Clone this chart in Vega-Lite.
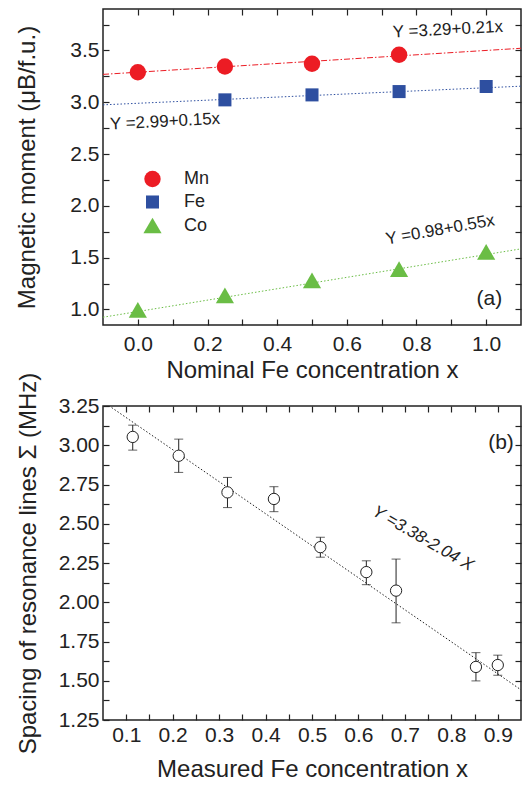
{
  "$schema": "https://vega.github.io/schema/vega-lite/v6.json",
  "background": "white",
  "padding": {"left": 15, "top": 7, "right": 9, "bottom": 3},
  "bounds": "flush",
  "spacing": 81,
  "config": {
    "font": "Liberation Sans",
    "view": {"stroke": "#222", "strokeWidth": 1.5},
    "axis": {
      "grid": false, "domain": false, "tickColor": "#222", "tickSize": -6, "tickWidth": 1.2,
      "labelFontSize": 21, "titleFontSize": 24, "titleFontWeight": "normal",
      "labelColor": "#222", "titleColor": "#222", "labelPadding": 10, "labelFlush": false
    }
  },
  "vconcat": [
    {
      "width": 418,
      "height": 316,
      "layer": [
        {
          "data": {"values": [
            {"series": "Mn", "x": -0.1, "y": 3.269}, {"series": "Mn", "x": 1.1, "y": 3.521}
          ]},
          "mark": {"type": "line", "color": "#EC1C24", "strokeWidth": 1, "strokeDash": [6, 2, 1.5, 2], "clip": true},
          "encoding": {
            "x": {"field": "x", "type": "quantitative", "scale": {"domain": [-0.1, 1.1], "nice": false, "zero": false},
              "axis": {"orient": "bottom", "values": [0, 0.1, 0.2, 0.3, 0.4, 0.5, 0.6, 0.7, 0.8, 0.9, 1.0],
                "labelExpr": "abs(round(datum.value*10)) % 2 == 0 ? format(datum.value, '.1f') : ''",
                "labelPadding": 14,
                "title": "Nominal Fe concentration x", "titlePadding": 4}},
            "y": {"field": "y", "type": "quantitative", "scale": {"domain": [0.85, 3.9], "nice": false, "zero": false},
              "axis": {"orient": "left", "values": [1.0, 1.25, 1.5, 1.75, 2.0, 2.25, 2.5, 2.75, 3.0, 3.25, 3.5, 3.75],
                "labelExpr": "round(datum.value*4) % 2 == 0 ? format(datum.value, '.1f') : ''",
                "title": "Magnetic moment (μB/f.u.)", "titlePadding": 30}}
          }
        },
        {
          "data": {"values": [
            {"series": "Fe", "x": -0.1, "y": 2.975}, {"series": "Fe", "x": 1.1, "y": 3.155}
          ]},
          "mark": {"type": "line", "color": "#2E4FA0", "strokeWidth": 1, "strokeDash": [1.5, 2], "clip": true},
          "encoding": {
            "x": {"field": "x", "type": "quantitative", "scale": {"domain": [-0.1, 1.1], "nice": false, "zero": false}, "axis": null},
            "y": {"field": "y", "type": "quantitative", "scale": {"domain": [0.85, 3.9], "nice": false, "zero": false}, "axis": null}
          }
        },
        {
          "data": {"values": [
            {"series": "Co", "x": -0.1, "y": 0.925}, {"series": "Co", "x": 1.1, "y": 1.585}
          ]},
          "mark": {"type": "line", "color": "#6ABD45", "strokeWidth": 1, "strokeDash": [1.5, 2], "clip": true},
          "encoding": {
            "x": {"field": "x", "type": "quantitative", "scale": {"domain": [-0.1, 1.1], "nice": false, "zero": false}, "axis": null},
            "y": {"field": "y", "type": "quantitative", "scale": {"domain": [0.85, 3.9], "nice": false, "zero": false}, "axis": null}
          }
        },
        {
          "data": {"values": [
            {"series": "Mn", "x": 0.0, "y": 3.29}, {"series": "Mn", "x": 0.25, "y": 3.345},
            {"series": "Mn", "x": 0.5, "y": 3.371}, {"series": "Mn", "x": 0.75, "y": 3.458},
            {"series": "Fe", "x": 0.25, "y": 3.023}, {"series": "Fe", "x": 0.5, "y": 3.071},
            {"series": "Fe", "x": 0.75, "y": 3.103}, {"series": "Fe", "x": 1.0, "y": 3.152},
            {"series": "Co", "x": 0.0, "y": 0.995}, {"series": "Co", "x": 0.25, "y": 1.136},
            {"series": "Co", "x": 0.5, "y": 1.281}, {"series": "Co", "x": 0.75, "y": 1.39},
            {"series": "Co", "x": 1.0, "y": 1.555}
          ]},
          "mark": {"type": "point", "filled": true, "opacity": 1, "strokeWidth": 0},
          "encoding": {
            "x": {"field": "x", "type": "quantitative", "scale": {"domain": [-0.1, 1.1], "nice": false, "zero": false},
              "axis": {"orient": "top", "values": [0, 0.1, 0.2, 0.3, 0.4, 0.5, 0.6, 0.7, 0.8, 0.9, 1.0], "labels": false, "title": null}},
            "y": {"field": "y", "type": "quantitative", "scale": {"domain": [0.85, 3.9], "nice": false, "zero": false},
              "axis": {"orient": "right", "values": [1.0, 1.25, 1.5, 1.75, 2.0, 2.25, 2.5, 2.75, 3.0, 3.25, 3.5, 3.75], "labels": false, "title": null}},
            "color": {"field": "series", "type": "nominal",
              "scale": {"domain": ["Mn", "Fe", "Co"], "range": ["#EC1C24", "#2E4FA0", "#6ABD45"]},
              "legend": {"orient": "none", "legendX": 40, "legendY": 161, "title": null, "labelFontSize": 18,
                "labelColor": "#222", "symbolSize": 200, "rowPadding": 5, "labelOffset": 22, "symbolStrokeWidth": 0, "padding": 0}},
            "shape": {"field": "series", "type": "nominal",
              "scale": {"domain": ["Mn", "Fe", "Co"], "range": ["circle", "square", "triangle-up"]},
              "legend": {"orient": "none", "legendX": 40, "legendY": 161, "title": null, "labelFontSize": 18,
                "labelColor": "#222", "symbolSize": 200, "rowPadding": 5, "labelOffset": 22, "symbolStrokeWidth": 0, "padding": 0}},
            "size": {"field": "series", "type": "nominal",
              "scale": {"type": "ordinal", "domain": ["Mn", "Fe", "Co"], "range": [270, 170, 330]}, "legend": null}
          }
        },
        {
          "data": {"values": [{"x": 0.89, "y": 3.70, "label": "Y =3.29+0.21x"}]},
          "mark": {"type": "text", "fontSize": 17, "angle": -3, "color": "#222"},
          "encoding": {
            "x": {"field": "x", "type": "quantitative", "scale": {"domain": [-0.1, 1.1], "nice": false, "zero": false}, "axis": null},
            "y": {"field": "y", "type": "quantitative", "scale": {"domain": [0.85, 3.9], "nice": false, "zero": false}, "axis": null},
            "text": {"field": "label"}
          }
        },
        {
          "data": {"values": [{"x": 0.078, "y": 2.813, "label": "Y =2.99+0.15x"}]},
          "mark": {"type": "text", "fontSize": 17, "angle": -3, "color": "#222"},
          "encoding": {
            "x": {"field": "x", "type": "quantitative", "scale": {"domain": [-0.1, 1.1], "nice": false, "zero": false}, "axis": null},
            "y": {"field": "y", "type": "quantitative", "scale": {"domain": [0.85, 3.9], "nice": false, "zero": false}, "axis": null},
            "text": {"field": "label"}
          }
        },
        {
          "data": {"values": [{"x": 0.868, "y": 1.768, "label": "Y =0.98+0.55x"}]},
          "mark": {"type": "text", "fontSize": 17, "angle": -10, "color": "#222"},
          "encoding": {
            "x": {"field": "x", "type": "quantitative", "scale": {"domain": [-0.1, 1.1], "nice": false, "zero": false}, "axis": null},
            "y": {"field": "y", "type": "quantitative", "scale": {"domain": [0.85, 3.9], "nice": false, "zero": false}, "axis": null},
            "text": {"field": "label"}
          }
        },
        {
          "data": {"values": [{"x": 1.009, "y": 1.10, "label": "(a)"}]},
          "mark": {"type": "text", "fontSize": 21, "color": "#222"},
          "encoding": {
            "x": {"field": "x", "type": "quantitative", "scale": {"domain": [-0.1, 1.1], "nice": false, "zero": false}, "axis": null},
            "y": {"field": "y", "type": "quantitative", "scale": {"domain": [0.85, 3.9], "nice": false, "zero": false}, "axis": null},
            "text": {"field": "label"}
          }
        }
      ],
      "resolve": {"axis": {"x": "independent", "y": "independent"}}
    },
    {
      "width": 418,
      "height": 314,
      "layer": [
        {
          "data": {"values": [{"x": 0.05, "y": 3.278}, {"x": 0.95, "y": 1.442}]},
          "mark": {"type": "line", "color": "#222", "strokeWidth": 1, "strokeDash": [1.5, 2], "clip": true},
          "encoding": {
            "x": {"field": "x", "type": "quantitative", "scale": {"domain": [0.05, 0.95], "nice": false, "zero": false},
              "axis": {"orient": "bottom", "values": [0.1, 0.15, 0.2, 0.25, 0.3, 0.35, 0.4, 0.45, 0.5, 0.55, 0.6, 0.65, 0.7, 0.75, 0.8, 0.85, 0.9],
                "labelExpr": "round(datum.value*20) % 2 == 0 ? format(datum.value, '.1f') : ''",
                "labelPadding": 10,
                "title": "Measured Fe concentration x", "titlePadding": 12}},
            "y": {"field": "y", "type": "quantitative", "scale": {"domain": [1.25, 3.25], "nice": false, "zero": false},
              "axis": {"orient": "left", "values": [1.25, 1.375, 1.5, 1.625, 1.75, 1.875, 2.0, 2.125, 2.25, 2.375, 2.5, 2.625, 2.75, 2.875, 3.0, 3.125, 3.25],
                "labelExpr": "round(datum.value*8) % 2 == 0 ? format(datum.value, '.2f') : ''",
                "title": "Spacing of resonance lines Σ (MHz)", "titlePadding": 18}}
          }
        },
        {
          "data": {"name": "meas"},
          "mark": {"type": "rule", "color": "#222", "strokeWidth": 1},
          "encoding": {
            "x": {"field": "x", "type": "quantitative", "scale": {"domain": [0.05, 0.95], "nice": false, "zero": false}, "axis": null},
            "y": {"field": "lo", "type": "quantitative", "scale": {"domain": [1.25, 3.25], "nice": false, "zero": false}, "axis": null},
            "y2": {"field": "hi"}
          }
        },
        {
          "data": {"name": "meas"},
          "mark": {"type": "tick", "orient": "horizontal", "color": "#222", "size": 9, "thickness": 1},
          "encoding": {
            "x": {"field": "x", "type": "quantitative", "scale": {"domain": [0.05, 0.95], "nice": false, "zero": false}, "axis": null},
            "y": {"field": "lo", "type": "quantitative", "scale": {"domain": [1.25, 3.25], "nice": false, "zero": false}, "axis": null}
          }
        },
        {
          "data": {"name": "meas"},
          "mark": {"type": "tick", "orient": "horizontal", "color": "#222", "size": 9, "thickness": 1},
          "encoding": {
            "x": {"field": "x", "type": "quantitative", "scale": {"domain": [0.05, 0.95], "nice": false, "zero": false}, "axis": null},
            "y": {"field": "hi", "type": "quantitative", "scale": {"domain": [1.25, 3.25], "nice": false, "zero": false}, "axis": null}
          }
        },
        {
          "data": {"name": "meas"},
          "mark": {"type": "point", "shape": "circle", "filled": false, "fill": "white", "fillOpacity": 1, "stroke": "#222", "strokeWidth": 1, "opacity": 1, "size": 128},
          "encoding": {
            "x": {"field": "x", "type": "quantitative", "scale": {"domain": [0.05, 0.95], "nice": false, "zero": false},
              "axis": {"orient": "top", "values": [0.1, 0.15, 0.2, 0.25, 0.3, 0.35, 0.4, 0.45, 0.5, 0.55, 0.6, 0.65, 0.7, 0.75, 0.8, 0.85, 0.9], "labels": false, "title": null}},
            "y": {"field": "y", "type": "quantitative", "scale": {"domain": [1.25, 3.25], "nice": false, "zero": false},
              "axis": {"orient": "right", "values": [1.375, 1.5, 1.625, 1.75, 1.875, 2.0, 2.125, 2.25, 2.375, 2.5, 2.625, 2.75, 2.875, 3.0, 3.125], "labels": false, "title": null}}
          }
        },
        {
          "data": {"values": [{"x": 0.907, "y": 3.015, "label": "(b)"}]},
          "mark": {"type": "text", "fontSize": 21, "color": "#222"},
          "encoding": {
            "x": {"field": "x", "type": "quantitative", "scale": {"domain": [0.05, 0.95], "nice": false, "zero": false}, "axis": null},
            "y": {"field": "y", "type": "quantitative", "scale": {"domain": [1.25, 3.25], "nice": false, "zero": false}, "axis": null},
            "text": {"field": "label"}
          }
        },
        {
          "data": {"values": [{"x": 0.739, "y": 2.406, "label": "Y =3.38-2.04 X"}]},
          "mark": {"type": "text", "fontSize": 17, "fontStyle": "italic", "angle": 30, "color": "#222"},
          "encoding": {
            "x": {"field": "x", "type": "quantitative", "scale": {"domain": [0.05, 0.95], "nice": false, "zero": false}, "axis": null},
            "y": {"field": "y", "type": "quantitative", "scale": {"domain": [1.25, 3.25], "nice": false, "zero": false}, "axis": null},
            "text": {"field": "label"}
          }
        }
      ],
      "resolve": {"axis": {"x": "independent", "y": "independent"}}
    }
  ],
  "datasets": {
    "meas": [
      {"x": 0.114, "y": 3.053, "lo": 2.969, "hi": 3.128},
      {"x": 0.213, "y": 2.933, "lo": 2.827, "hi": 3.039},
      {"x": 0.318, "y": 2.700, "lo": 2.603, "hi": 2.795},
      {"x": 0.418, "y": 2.658, "lo": 2.577, "hi": 2.736},
      {"x": 0.518, "y": 2.351, "lo": 2.287, "hi": 2.414},
      {"x": 0.617, "y": 2.192, "lo": 2.112, "hi": 2.264},
      {"x": 0.681, "y": 2.074, "lo": 1.869, "hi": 2.275},
      {"x": 0.853, "y": 1.588, "lo": 1.499, "hi": 1.679},
      {"x": 0.900, "y": 1.600, "lo": 1.535, "hi": 1.663}
    ]
  }
}
